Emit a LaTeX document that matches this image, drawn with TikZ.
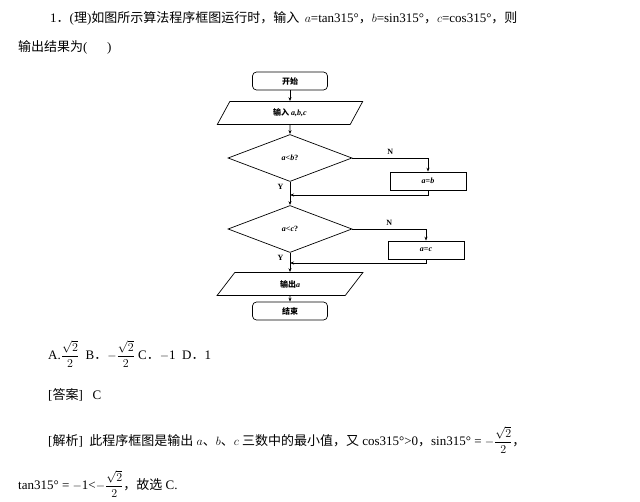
\documentclass[tikz,border=0pt]{standalone}
\usepackage{amsmath}
\usepackage{fontspec}
\setmainfont{Liberation Serif}
\newfontfamily\cjk{Noto Sans CJK SC}
\usetikzlibrary{shapes.geometric,arrows.meta}
\begin{document}
\begin{tikzpicture}[x=1pt,y=-1pt,
  fc/.style={draw,line width=0.7pt,font=\fontsize{8}{9}\selectfont\bfseries},
  term/.style={fc,rounded corners=4pt,minimum width=75pt,minimum height=18pt},
  io/.style={fc,trapezium,trapezium left angle=70,trapezium right angle=110,trapezium stretches=true,minimum width=146pt,minimum height=23pt,inner sep=1pt},
  dec/.style={fc,diamond,aspect=2.6,minimum width=124pt,minimum height=47pt,inner sep=0pt},
  proc/.style={fc,minimum width=76pt,minimum height=18pt},
  arr/.style={-{Stealth[length=4pt,width=3pt]},line width=0.7pt},
  lab/.style={font=\fontsize{8}{9}\selectfont\bfseries},
  txt/.style={anchor=west,inner sep=0pt,font=\fontsize{13}{15}\selectfont}]
\useasboundingbox (0,0) rectangle (640,501);
\node[txt] (t1) at (50,18) {1{\cjk ．}({\cjk 理}){\cjk 如图所示算法程序框图运行时，输入} \,$a$=tan315°{\cjk ，}$b$=sin315°{\cjk ，}$c$=cos315°{\cjk ，则}};
\node[txt] (t2) at (18,47) {{\cjk 输出结果为}(\quad\ \ )};
\node[term] (s) at (290,81) {\cjk 开始};
\node[io] (in) at (290,113) {{\cjk 输入} \textit{a,b,c}};
\node[dec] (d1) at (290,158) {\textit{a}<\textit{b}?};
\node[proc] (p1) at (428,181) {\textit{a}=\textit{b}};
\coordinate (m1) at (290,195);
\node[dec] (d2) at (290,229) {\textit{a}<\textit{c}?};
\node[proc] (p2) at (426,250) {\textit{a}=\textit{c}};
\coordinate (m2) at (290,263);
\node[io] (out) at (290,284) {{\cjk 输出}\textit{a}};
\node[term] (e) at (290,311) {\cjk 结束};
\draw[arr] (s) -- (in);
\draw[arr] (in) -- (d1);
\draw[arr] (d1.east) -| (p1.north) node[lab,pos=0.25,above] {N};
\draw[line width=0.7pt] (d1.south) -- (m1) node[lab,pos=0.4,left=3pt] {Y};
\draw[arr] (p1.south) |- (m1);
\draw[arr] (m1) -- (d2);
\draw[arr] (d2.east) -| (p2.north) node[lab,pos=0.25,above] {N};
\draw[line width=0.7pt] (d2.south) -- (m2) node[lab,pos=0.5,left=3pt] {Y};
\draw[arr] (p2.south) |- (m2);
\draw[arr] (m2) -- (out);
\draw[arr] (out) -- (e);
\node[txt] (opt) at (48,354) {A.$\dfrac{\sqrt{2}}{2}$\ \ B{\cjk ．}$-\dfrac{\sqrt{2}}{2}$ C{\cjk ．}$-$1\ \ D{\cjk ．}1};
\node[txt] (ans) at (48,395) {[{\cjk 答案}]\ \ \ C};
\node[txt] (ex1) at (48,440) {[{\cjk 解析}]\ \ {\cjk 此程序框图是输出} $a${\cjk 、}$b${\cjk 、}$c$ {\cjk 三数中的最小值，又} cos315°>0{\cjk ，}sin315° = $-\dfrac{\sqrt{2}}{2}${\cjk ，}};
\node[txt] (ex2) at (18,484) {tan315° = $-$1<$-\dfrac{\sqrt{2}}{2}${\cjk ，故选} C.};
\end{tikzpicture}
\end{document}
